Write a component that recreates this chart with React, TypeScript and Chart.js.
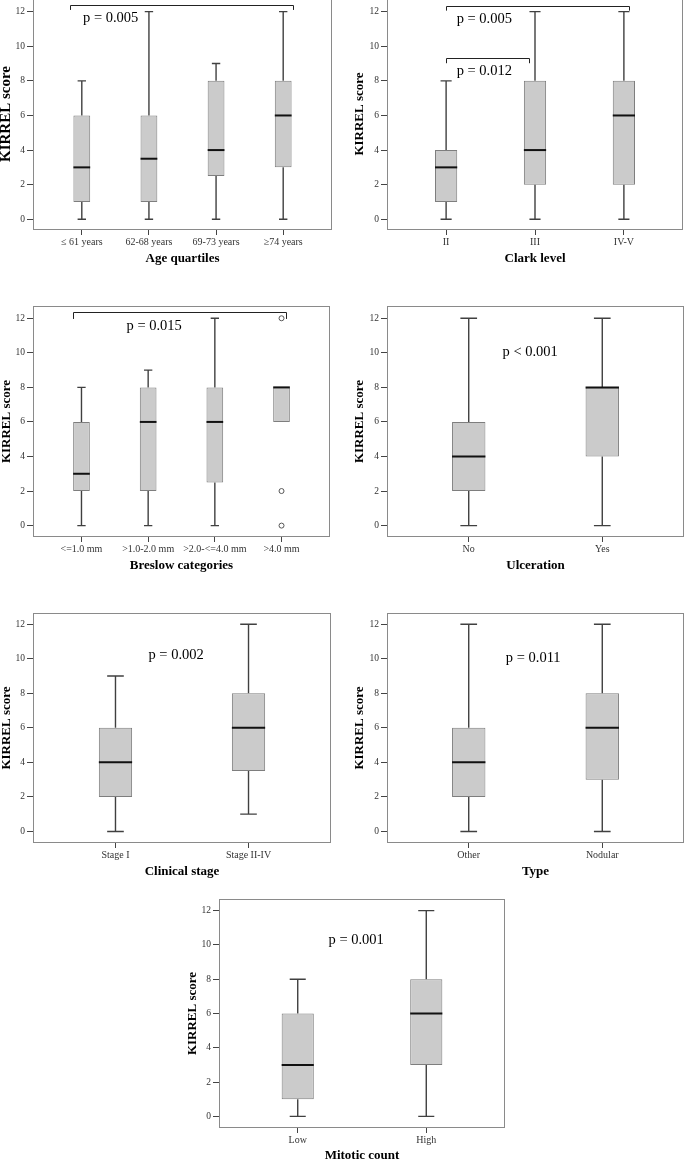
import React, { useEffect, useRef } from 'react';
import { Chart, registerables } from 'chart.js';
Chart.register(...registerables);

const FONT = '"Liberation Serif", "Times New Roman", serif';
const yTickValues = [0, 2, 4, 6, 8, 10, 12];
const yTitle = 'KIRREL score';
const TOP_PAD = 14;

// Panel 1: Age quartiles
const ageLabels = ['≤ 61 years', '62-68 years', '69-73 years', '≥74 years'];
const ageLow = [0, 0, 0, 0];
const ageQ1 = [1, 1, 2.5, 3];
const ageMedian = [3, 3.5, 4, 6];
const ageQ3 = [6, 6, 8, 8];
const ageHigh = [8, 12, 9, 12];
const ageBrackets = [{ x1: -0.17, x2: 3.145, y: 12.4, drop: 12.1 }];
const ageTexts = [{ text: 'p = 0.005', x: 0.43, y: 11.62 }];

// Panel 2: Clark level
const clarkLabels = ['II', 'III', 'IV-V'];
const clarkLow = [0, 0, 0];
const clarkQ1 = [1, 2, 2];
const clarkMedian = [3, 4, 6];
const clarkQ3 = [4, 8, 8];
const clarkHigh = [8, 12, 12];
const clarkBrackets = [
  { x1: 0, x2: 2.056, y: 12.35, drop: 12.06 },
  { x1: 0, x2: 0.936, y: 9.3, drop: 9.02 },
];
const clarkTexts = [
  { text: 'p = 0.005', x: 0.43, y: 11.58 },
  { text: 'p = 0.012', x: 0.43, y: 8.57 },
];

// Panel 3: Breslow categories
const breslowLabels = ['<=1.0 mm', '>1.0-2.0 mm', '>2.0-<=4.0 mm', '>4.0 mm'];
const breslowLow = [0, 0, 0, 6];
const breslowQ1 = [2, 2, 2.5, 6];
const breslowMedian = [3, 6, 6, 8];
const breslowQ3 = [6, 8, 8, 8];
const breslowHigh = [8, 9, 12, 8];
const breslowOutlierX = [3, 3, 3];
const breslowOutlierY = [12, 2, 0];
const breslowBrackets = [{ x1: -0.12, x2: 3.06, y: 12.38, drop: 11.96 }];
const breslowTexts = [{ text: 'p = 0.015', x: 1.09, y: 11.55 }];

// Panel 4: Ulceration
const ulcerLabels = ['No', 'Yes'];
const ulcerLow = [0, 0];
const ulcerQ1 = [2, 4];
const ulcerMedian = [4, 8];
const ulcerQ3 = [6, 8];
const ulcerHigh = [12, 12];
const ulcerTexts = [{ text: 'p < 0.001', x: 0.46, y: 10.06 }];

// Panel 5: Clinical stage
const stageLabels = ['Stage I', 'Stage II-IV'];
const stageLow = [0, 1];
const stageQ1 = [2, 3.5];
const stageMedian = [4, 6];
const stageQ3 = [6, 8];
const stageHigh = [9, 12];
const stageTexts = [{ text: 'p = 0.002', x: 0.456, y: 10.2 }];

// Panel 6: Type
const typeLabels = ['Other', 'Nodular'];
const typeLow = [0, 0];
const typeQ1 = [2, 3];
const typeMedian = [4, 6];
const typeQ3 = [6, 8];
const typeHigh = [12, 12];
const typeTexts = [{ text: 'p = 0.011', x: 0.483, y: 10.04 }];

// Panel 7: Mitotic count
const mitoticLabels = ['Low', 'High'];
const mitoticLow = [0, 0];
const mitoticQ1 = [1, 3];
const mitoticMedian = [3, 6];
const mitoticQ3 = [6, 8];
const mitoticHigh = [8, 12];
const mitoticTexts = [{ text: 'p = 0.001', x: 0.455, y: 10.3 }];

type Bracket = { x1: number; x2: number; y: number; drop: number };
type PText = { text: string; x: number; y: number };
type Panel = {
  labels: string[]; low: number[]; q1: number[]; med: number[]; q3: number[]; high: number[];
  outX?: number[]; outY?: number[];
  brackets?: Bracket[]; texts?: PText[];
  xTitle: string;
  frame: { l: number; r: number; t: number; b: number };
  titleX: number; ySize: number; xHeight: number;
  pad: number; ymin: number; ymax: number;
};

const panels: Panel[] = [
  { labels: ageLabels, low: ageLow, q1: ageQ1, med: ageMedian, q3: ageQ3, high: ageHigh,
    brackets: ageBrackets, texts: ageTexts, xTitle: 'Age quartiles',
    frame: { l: 33, r: 332, t: -2, b: 230 }, titleX: 6, ySize: 15, xHeight: 35,
    pad: 0.727, ymin: -0.62, ymax: 12.79 },
  { labels: clarkLabels, low: clarkLow, q1: clarkQ1, med: clarkMedian, q3: clarkQ3, high: clarkHigh,
    brackets: clarkBrackets, texts: clarkTexts, xTitle: 'Clark level',
    frame: { l: 387, r: 683, t: -2, b: 230 }, titleX: 359, ySize: 13, xHeight: 35,
    pad: 0.665, ymin: -0.62, ymax: 12.79 },
  { labels: breslowLabels, low: breslowLow, q1: breslowQ1, med: breslowMedian, q3: breslowQ3, high: breslowHigh,
    outX: breslowOutlierX, outY: breslowOutlierY,
    brackets: breslowBrackets, texts: breslowTexts, xTitle: 'Breslow categories',
    frame: { l: 33, r: 331, t: 306, b: 537 }, titleX: 6, ySize: 13, xHeight: 35,
    pad: 0.727, ymin: -0.66, ymax: 12.71 },
  { labels: ulcerLabels, low: ulcerLow, q1: ulcerQ1, med: ulcerMedian, q3: ulcerQ3, high: ulcerHigh,
    texts: ulcerTexts, xTitle: 'Ulceration',
    frame: { l: 387, r: 684, t: 306, b: 537 }, titleX: 359, ySize: 13, xHeight: 35,
    pad: 0.612, ymin: -0.66, ymax: 12.71 },
  { labels: stageLabels, low: stageLow, q1: stageQ1, med: stageMedian, q3: stageQ3, high: stageHigh,
    texts: stageTexts, xTitle: 'Clinical stage',
    frame: { l: 33, r: 331, t: 613, b: 843 }, titleX: 6, ySize: 13, xHeight: 35,
    pad: 0.62, ymin: -0.67, ymax: 12.65 },
  { labels: typeLabels, low: typeLow, q1: typeQ1, med: typeMedian, q3: typeQ3, high: typeHigh,
    texts: typeTexts, xTitle: 'Type',
    frame: { l: 387, r: 684, t: 613, b: 843 }, titleX: 359, ySize: 13, xHeight: 35,
    pad: 0.612, ymin: -0.67, ymax: 12.65 },
  { labels: mitoticLabels, low: mitoticLow, q1: mitoticQ1, med: mitoticMedian, q3: mitoticQ3, high: mitoticHigh,
    texts: mitoticTexts, xTitle: 'Mitotic count',
    frame: { l: 219, r: 505, t: 899, b: 1128 }, titleX: 192, ySize: 13, xHeight: 34,
    pad: 0.6125, ymin: -0.68, ymax: 12.68 },
];

function makePlugin(p: Panel) {
  return {
    id: 'boxDecor',
    beforeDatasetsDraw(chart: any) {
      const { ctx } = chart;
      const xs = chart.scales.x;
      const ys = chart.scales.y;
      ctx.save();
      ctx.strokeStyle = '#404040';
      ctx.lineWidth = 1.4;
      p.labels.forEach((_, i) => {
        const x = xs.getPixelForValue(i);
        const capHalf = Math.abs(xs.getPixelForValue(i + 0.0625) - x);
        const pairs = [[p.low[i], p.q1[i]], [p.high[i], p.q3[i]]];
        pairs.forEach(([end, edge]) => {
          if (end === edge) return;
          const ye = ys.getPixelForValue(end);
          const yb = ys.getPixelForValue(edge);
          ctx.beginPath();
          ctx.moveTo(x, ye);
          ctx.lineTo(x, yb);
          ctx.moveTo(x - capHalf, ye);
          ctx.lineTo(x + capHalf, ye);
          ctx.stroke();
        });
      });
      ctx.restore();
    },
    afterDatasetsDraw(chart: any) {
      const { ctx, chartArea: ca } = chart;
      const xs = chart.scales.x;
      const ys = chart.scales.y;
      ctx.save();
      // medians
      ctx.strokeStyle = '#111';
      ctx.lineWidth = 2;
      p.labels.forEach((_, i) => {
        const x1 = xs.getPixelForValue(i - 0.125);
        const x2 = xs.getPixelForValue(i + 0.125);
        const y = ys.getPixelForValue(p.med[i]);
        ctx.beginPath();
        ctx.moveTo(x1, y);
        ctx.lineTo(x2, y);
        ctx.stroke();
      });
      // brackets
      ctx.strokeStyle = '#222';
      ctx.lineWidth = 1;
      (p.brackets || []).forEach((b) => {
        const x1 = Math.round(xs.getPixelForValue(b.x1)) + 0.5;
        const x2 = Math.round(xs.getPixelForValue(b.x2)) + 0.5;
        const y = Math.round(ys.getPixelForValue(b.y)) + 0.5;
        const yd = ys.getPixelForValue(b.drop);
        ctx.beginPath();
        ctx.moveTo(x1, yd);
        ctx.lineTo(x1, y);
        ctx.lineTo(x2, y);
        ctx.lineTo(x2, yd);
        ctx.stroke();
      });
      // p-value texts
      ctx.fillStyle = '#000';
      ctx.font = `14.5px ${FONT}`;
      ctx.textAlign = 'center';
      ctx.textBaseline = 'middle';
      (p.texts || []).forEach((t) => {
        ctx.fillText(t.text, xs.getPixelForValue(t.x), ys.getPixelForValue(t.y));
      });
      // frame
      ctx.strokeStyle = '#8a8a8a';
      ctx.lineWidth = 1;
      ctx.strokeRect(Math.round(ca.left) + 0.5, Math.round(ca.top) + 0.5,
        Math.round(ca.right - ca.left) - 1, Math.round(ca.bottom - ca.top) - 1);
      ctx.restore();
    },
  };
}

function BoxPanel({ p }: { p: Panel }) {
  const ref = useRef<HTMLCanvasElement>(null);
  const left = Math.round(p.titleX - p.ySize / 2);
  const top = p.frame.t - TOP_PAD;
  const width = p.frame.r - left + 4;
  const height = p.frame.b + p.xHeight - top;
  useEffect(() => {
    const n = p.labels.length;
    const chart = new Chart(ref.current as HTMLCanvasElement, {
      type: 'bar',
      data: {
        datasets: [
          {
            type: 'bar',
            data: p.labels.map((_, i) => ({ x: i, y: [p.q1[i], p.q3[i]] })) as any,
            backgroundColor: '#cbcbcb',
            borderColor: '#7e7e7e',
            borderWidth: 1,
            borderSkipped: false,
            barPercentage: 0.25,
            categoryPercentage: 1,
          } as any,
          {
            type: 'scatter',
            data: (p.outX || []).map((x, i) => ({ x, y: (p.outY as number[])[i] })),
            pointRadius: 2.5,
            pointBackgroundColor: '#ffffff',
            pointBorderColor: '#555',
            pointBorderWidth: 1,
          } as any,
        ],
      },
      options: {
        responsive: false,
        animation: false,
        layout: { padding: { top: TOP_PAD, right: 4, left: 0, bottom: 0 } },
        plugins: { legend: { display: false }, tooltip: { enabled: false } },
        scales: {
          x: {
            type: 'linear',
            min: -p.pad,
            max: n - 1 + p.pad,
            offset: false,
            afterBuildTicks: (s: any) => { s.ticks = p.labels.map((_, i) => ({ value: i })); },
            afterFit: (s: any) => { s.height = p.xHeight; },
            ticks: {
              callback: (v: any) => p.labels[Math.round(Number(v))] ?? '',
              autoSkip: false, maxRotation: 0, minRotation: 0, padding: 1,
              color: '#333', font: { family: FONT, size: 10 },
            },
            grid: { display: true, drawOnChartArea: false, drawTicks: true, tickLength: 5, offset: false, color: '#444' },
            border: { display: false },
            title: { display: true, text: p.xTitle, color: '#000', padding: 0,
              font: { family: FONT, size: 13, weight: 'bold', lineHeight: 1 } },
          },
          y: {
            type: 'linear',
            min: p.ymin,
            max: p.ymax,
            afterBuildTicks: (s: any) => { s.ticks = yTickValues.map((v) => ({ value: v })); },
            afterFit: (s: any) => { s.width = p.frame.l - left; },
            ticks: { padding: 2, color: '#333', font: { family: FONT, size: 9.5 } },
            grid: { display: true, drawOnChartArea: false, drawTicks: true, tickLength: 6, color: '#444' },
            border: { display: false },
            title: { display: true, text: yTitle, color: '#000', padding: 0,
              font: { family: FONT, size: p.ySize, weight: 'bold', lineHeight: 1 } },
          },
        },
      } as any,
      plugins: [makePlugin(p) as any],
    });
    return () => chart.destroy();
  }, []);
  return (
    <canvas
      ref={ref}
      width={width}
      height={height}
      style={{ position: 'absolute', left, top, width, height }}
    />
  );
}

export default function App() {
  return (
    <div style={{ position: 'fixed', left: 0, top: 0, width: 685, height: 1160, overflow: 'hidden', background: '#fff' }}>
      {panels.map((p, i) => <BoxPanel key={i} p={p} />)}
    </div>
  );
}
